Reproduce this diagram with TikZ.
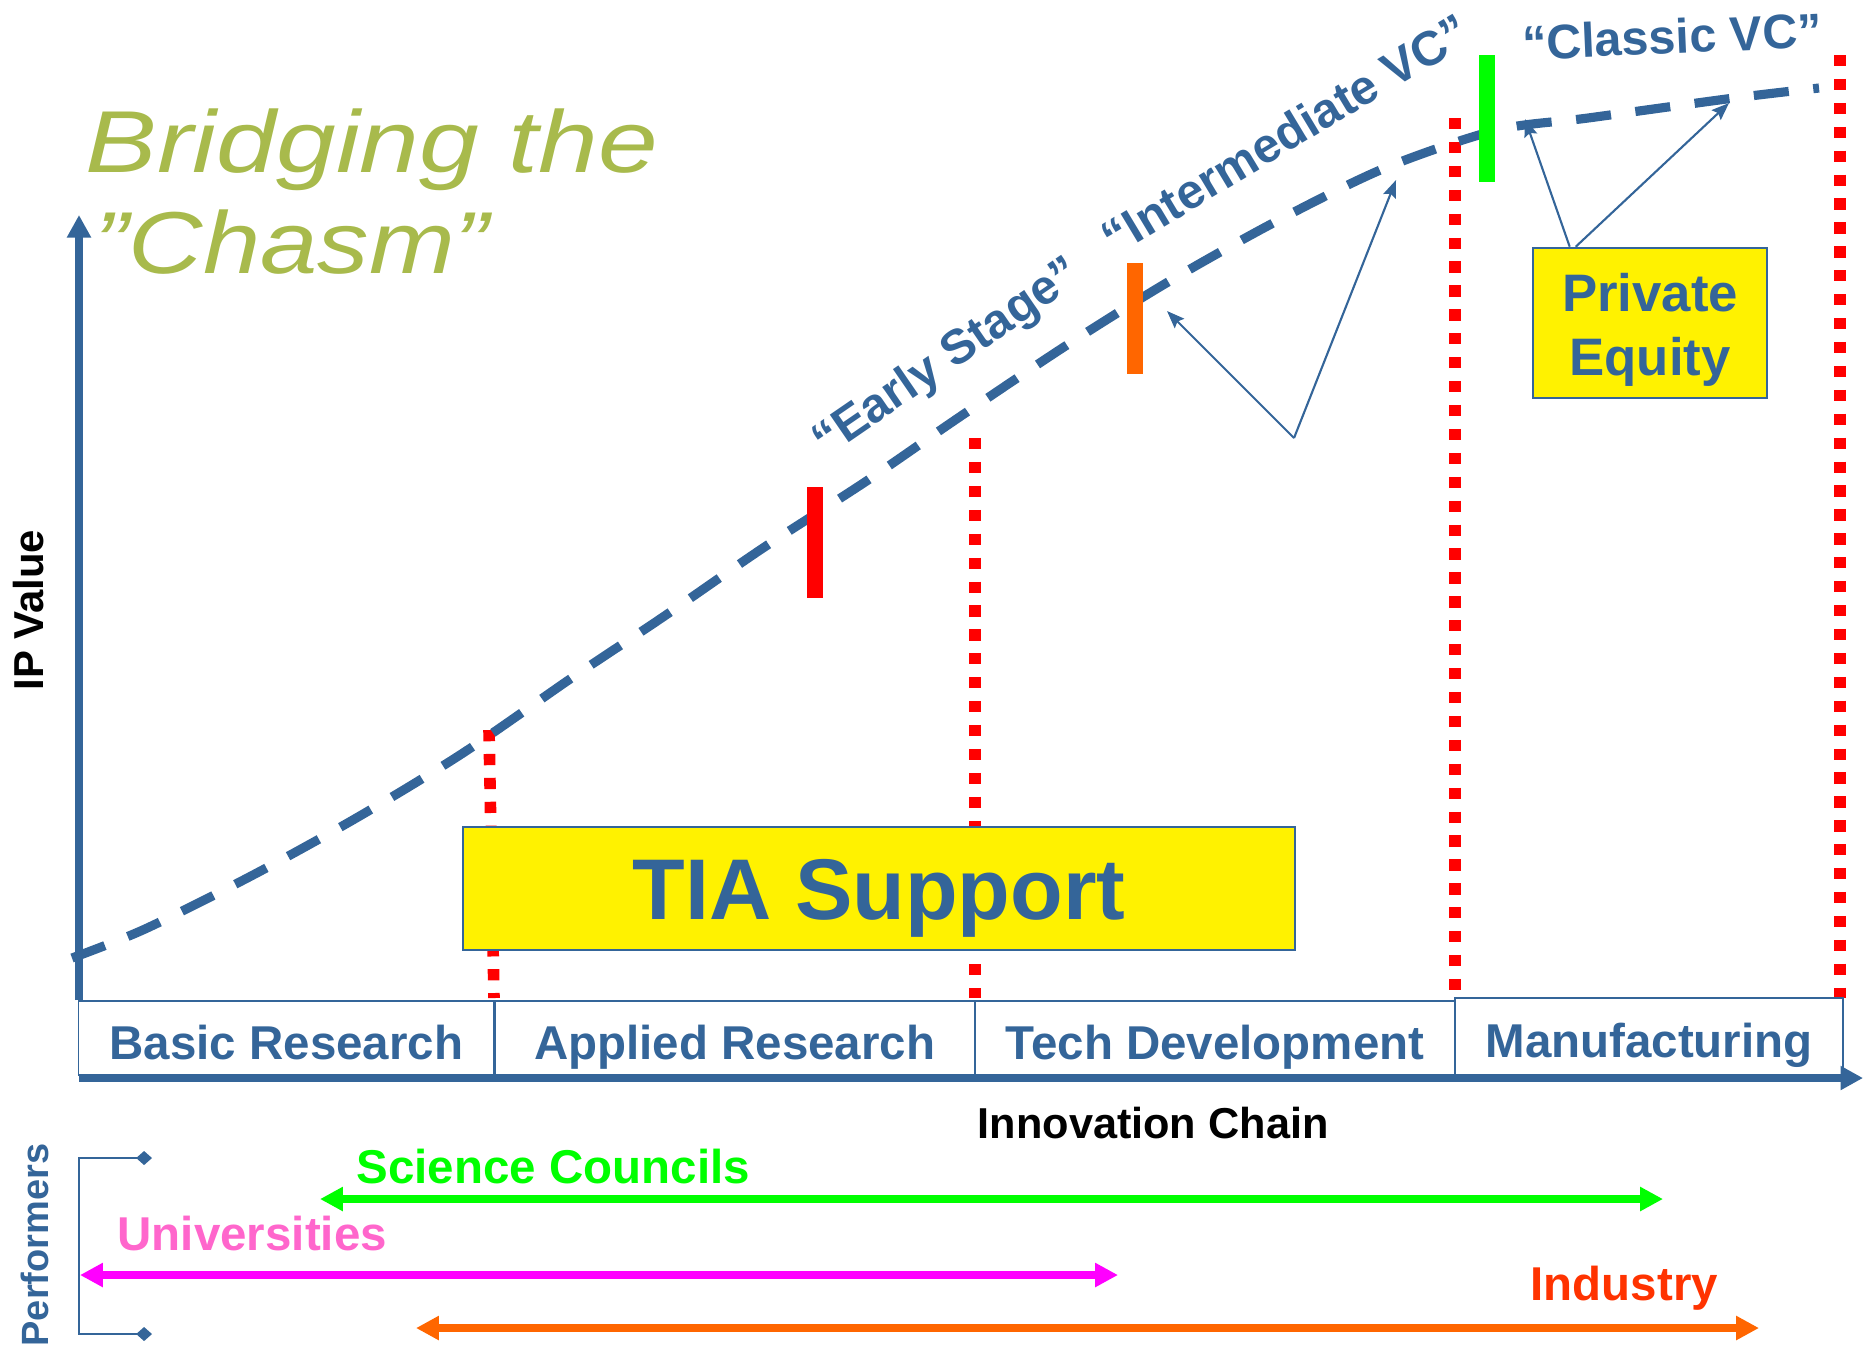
\documentclass[tikz,border=0pt]{standalone}
\usepackage{fontspec}
\setmainfont{Liberation Sans}
\usetikzlibrary{arrows.meta,calc}
\definecolor{ipblue}{RGB}{52,101,153}
\definecolor{chasmgreen}{RGB}{168,186,76}
\definecolor{brightgreen}{RGB}{0,255,0}
\definecolor{hotorange}{RGB}{255,102,0}
\definecolor{redorange}{RGB}{255,51,0}
\definecolor{unipink}{RGB}{255,102,204}
\definecolor{unimagenta}{RGB}{255,0,255}

\begin{document}
\begin{tikzpicture}[x=0.01cm, y=-0.01cm,
		axis/.style={draw=ipblue, line width=2pt, -{Triangle[length=6.4pt,width=6.5pt]}},
		chasm/.style={draw=ipblue, line width=2.6pt, dash pattern=on 10pt off 7pt},
		divider/.style={draw=red, line width=3.3pt, dash pattern=on 3.2pt off 3.6pt},
		stagebox/.style={draw=ipblue, line width=0.5pt, minimum height=0.74cm, inner sep=0pt, text height=12pt, text depth=0pt, text=ipblue, font=\bfseries\fontsize{13.5}{16}\selectfont},
		vclbl/.style={inner sep=0pt, text height=10pt, text depth=0pt, text=ipblue, font=\bfseries\fontsize{13.8}{16}\selectfont},
		ptr/.style={draw=ipblue, line width=0.6pt, -{Stealth[length=5pt,width=3.8pt,inset=0.8pt]}},
		perf/.style={line width=2.3pt, arrows={Triangle[length=6.5pt,width=6.5pt]-Triangle[length=6.5pt,width=6.5pt]}},
		perflbl/.style={anchor=base west, inner sep=0pt, font=\bfseries\fontsize{13.5}{16}\selectfont}]
	\useasboundingbox (0,0) rectangle (1864,1347);

	\node[anchor=base west, inner sep=0pt, text=chasmgreen, font=\itshape\fontsize{25}{30}\selectfont] (title1) at (85,172) {\scalebox{1.22}[1]{Bridging the}};
	\node[anchor=base west, inner sep=0pt, text=chasmgreen, font=\itshape\fontsize{25}{30}\selectfont] (title2) at (94,273) {\scalebox{1.17}[1]{\symbol{34}Chasm\symbol{34}}};

	\draw[divider] (489,730) -- (494,998);
	\draw[divider] (975,438) -- (975,998);
	\draw[divider] (1455,118) -- (1455,998);
	\draw[divider] (1840,55) -- (1840,998);

	\draw[chasm] plot[smooth] coordinates {(72,958) (145,929) (253,875) (358,817) (463,753) (573,677) (663,617) (763,548) (865,482) (958,418) (1067,345) (1168,282) (1275,222) (1385,168) (1497,130) (1588,118) (1734,98) (1819,88)};

	\fill[red] (807,487) rectangle (823,598);
	\fill[hotorange] (1127,263) rectangle (1143,374);
	\fill[brightgreen] (1479,55) rectangle (1495,182);

	\node[vclbl, rotate=34.5] (early) at (945,355) {``Early Stage''};
	\node[vclbl, rotate=31] (inter) at (1285,134) {``Intermediate VC''};
	\node[vclbl, rotate=2.5] (classic) at (1672,36) {``Classic VC''};

	\node[fill=yellow, draw=ipblue, line width=0.7pt, minimum width=8.32cm, minimum height=1.23cm, inner sep=0pt, text height=17.5pt, text depth=0pt, text=ipblue, font=\bfseries\fontsize{24.5}{28}\selectfont] (tia) at (879,888.5) {TIA Support};
	\node[fill=yellow, draw=ipblue, line width=0.7pt, minimum width=2.34cm, minimum height=1.5cm, inner sep=0pt, align=center, text=ipblue, font=\bfseries\fontsize{15}{18.2}\selectfont] (pe) at (1650,323) {\rule{0pt}{15pt}Private\\Equity};

	\coordinate (ivc) at (1294,438);
	\coordinate (ivc-a) at (1167,311);
	\coordinate (ivc-b) at (1396,180);
	\draw[ptr] (ivc) -- (ivc-a);
	\draw[ptr] (ivc) -- (ivc-b);
	\coordinate (pe-a) at (1525,119);
	\coordinate (pe-b) at (1729,103);
	\draw[ptr] ($(pe.north west)+(38,0)$) -- (pe-a);
	\draw[ptr] ($(pe.north west)+(44,0)$) -- (pe-b);

	\node[stagebox, minimum width=4.16cm] (basic) at (286.5,1038) {Basic Research};
	\node[stagebox, minimum width=4.805cm] (applied) at (734.75,1038) {Applied Research};
	\node[stagebox, minimum width=4.8cm] (techdev) at (1215,1038) {Tech Development};
	\node[stagebox, minimum width=3.88cm, minimum height=0.77cm] (manuf) at (1649,1036.5) {Manufacturing};

	\coordinate (orig) at (79,1000);
	\coordinate (ytip) at (79,215);
	\coordinate (xorig) at (79,1078);
	\coordinate (xtip) at (1863,1078);
	\draw[axis] (orig) -- (ytip);
	\draw[axis] (xorig) -- (xtip);

	\node[rotate=90, anchor=base, inner sep=0pt, font=\bfseries\fontsize{11.9}{14}\selectfont] (ipval) at (43,610) {IP Value};
	\node[anchor=base west, inner sep=0pt, font=\bfseries\fontsize{12.3}{14}\selectfont] (chain) at (977,1138) {Innovation Chain};

	\node[rotate=90, anchor=base, inner sep=0pt, text=ipblue, font=\bfseries\fontsize{10.8}{13}\selectfont] (perfs) at (48,1245) {Performers};
	\coordinate (pf-top) at (152,1158);
	\coordinate (pf-bot) at (152,1334);
	\draw[draw=ipblue, line width=0.5pt, arrows={Diamond[length=4.5pt,width=4pt]-Diamond[length=4.5pt,width=4pt]}] (pf-top) -- (79,1158) -- (79,1334) -- (pf-bot);

	\coordinate (sc-w) at (320,1199);
	\coordinate (sc-e) at (1663,1199);
	\coordinate (uni-w) at (80,1275);
	\coordinate (uni-e) at (1118,1275);
	\coordinate (ind-w) at (416,1328);
	\coordinate (ind-e) at (1759,1328);
	\draw[perf, brightgreen] (sc-w) -- (sc-e);
	\draw[perf, unimagenta] (uni-w) -- (uni-e);
	\draw[perf, hotorange] (ind-w) -- (ind-e);
	\node[perflbl, text=brightgreen] (sclbl) at (356,1183) {Science Councils};
	\node[perflbl, text=unipink] (unilbl) at (117,1250) {Universities};
	\node[perflbl, text=redorange] (indlbl) at (1530,1300) {Industry};
\end{tikzpicture}
\end{document}
